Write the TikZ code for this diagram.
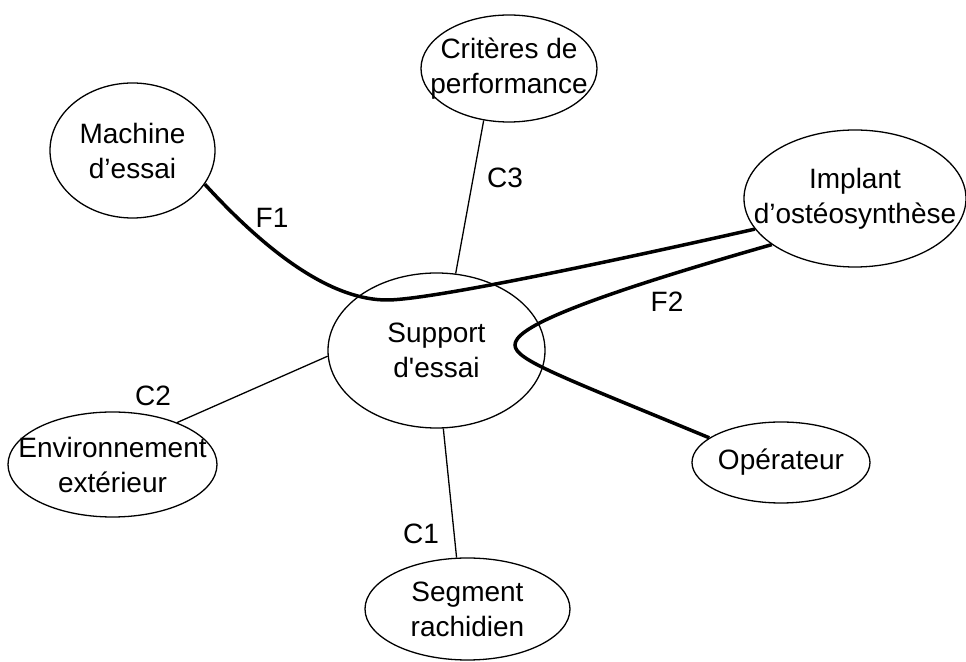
\documentclass[tikz,border=0pt]{standalone}
\usepackage{fontspec}
\setmainfont{Liberation Sans}
\usetikzlibrary{shapes.geometric}

\begin{document}
\begin{tikzpicture}[
  x=0.5pt, y=-0.5pt,
  font=\fontsize{14}{17.5}\selectfont,
  part/.style={draw, ellipse, line width=0.65pt, inner sep=0pt},
  every label/.style={align=center, inner sep=0pt},
  link/.style={line width=0.65pt},
  force/.style={line width=1.75pt},
  tag/.style={inner sep=0pt}
]
\useasboundingbox (0,0) rectangle (966,662);

\node[part, minimum width=82.5pt, minimum height=67.5pt, label={center:Machine\\d’essai}] (mach) at (132.5,150.5) {};
\node[part, minimum width=88pt, minimum height=53.5pt, label={center:Critères de\\performance}] (crit) at (509,68.5) {};
\node[part, minimum width=111pt, minimum height=68.5pt, label={center:Implant\\d’ostéosynthèse}] (impl) at (855,198.5) {};
\node[part, minimum width=108.5pt, minimum height=77.5pt, label={center:Support\\d\textquotesingle essai}] (supp) at (436.5,350.5) {};
\node[part, minimum width=104.5pt, minimum height=52.5pt, label={center:Environnement\\extérieur}] (env) at (112.5,464.5) {};
\node[part, minimum width=89pt, minimum height=40.5pt, label={center:Opérateur}] (ope) at (781,462.5) {};
\node[part, minimum width=102.5pt, minimum height=51pt, label={center:Segment\\rachidien}] (seg) at (467.5,609) {};

\node[tag] (tF1) at (272,218) {F1};
\node[tag] (tF2) at (667,302) {F2};
\node[tag] (tC3) at (505,178) {C3};
\node[tag] (tC2) at (153,396) {C2};
\node[tag] (tC1) at (421,534) {C1};

\draw[link] (supp.76) -- (crit.244);
\draw[link] (supp.183) -- (env.33);
\draw[link] (supp.275) -- (seg.102);

\draw[force] (mach.-25) .. controls (275,261) and (336,300) .. (387,300)
  .. controls (420,300) and (542,277) .. (impl.197);
\draw[force] (impl.209) .. controls (560,305) and (515,330) .. (515,345)
  .. controls (515,360) and (560,376) .. (ope.161);

\end{tikzpicture}
\end{document}
